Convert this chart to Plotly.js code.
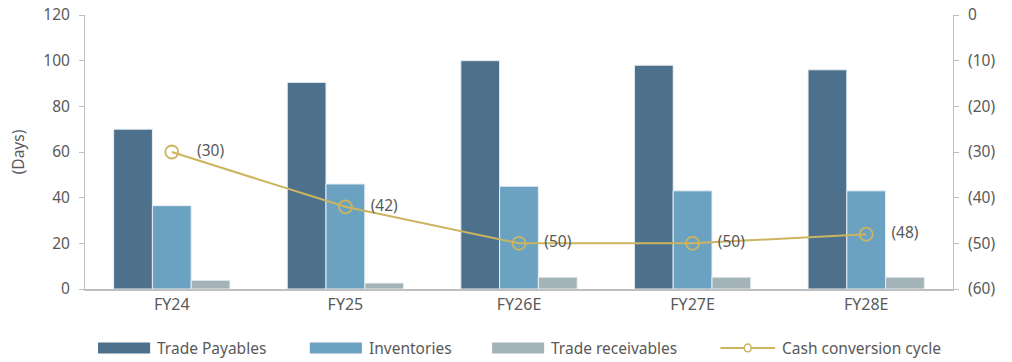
<!DOCTYPE html>
<html>
<head>
<meta charset="utf-8">
<script src="https://cdn.plot.ly/plotly-3.0.1.min.js"></script>
<style>html,body{margin:0;padding:0;background:#fff;}#chart{width:1012px;height:362px;}</style>
</head>
<body>
<div id="chart"></div>
<script>
const categories = ["FY24", "FY25", "FY26E", "FY27E", "FY28E"];
const tradePayables = [70, 90.5, 100, 98, 96];
const inventories = [36.5, 46, 45, 43, 43];
const tradeReceivables = [3.8, 2.6, 5.2, 5.2, 5.2];
const cashConversionCycle = [-30, -42, -50, -50, -48];
const seriesNames = ["Trade Payables", "Inventories", "Trade receivables", "Cash conversion cycle"];
const leftTicks = [0, 20, 40, 60, 80, 100, 120];
const rightTicks = [0, -10, -20, -30, -40, -50, -60];

const colors = ["#4D718D", "#6BA2C2", "#A4B3B8", "#CDB45E"];
const fontFam = "'Noto Sans', 'Open Sans', sans-serif";
const txtColor = "#595959";
const fs = 15.5;

const paren = v => v < 0 ? "(" + Math.abs(v) + ")" : String(v);

const barData = [tradePayables, inventories, tradeReceivables];
const traces = barData.map((vals, i) => ({
  type: "bar",
  x: categories,
  y: vals,
  name: seriesNames[i],
  marker: {color: colors[i], line: {color: "#E8EEF2", width: 1}},
  hoverinfo: "skip",
  showlegend: false
}));
traces.push({
  type: "scatter",
  mode: "lines+markers+text",
  x: categories,
  y: cashConversionCycle,
  yaxis: "y2",
  name: seriesNames[3],
  line: {color: colors[3], width: 2},
  marker: {symbol: "circle-open", size: 13, color: colors[3], line: {width: 1.8, color: colors[3]}},
  text: cashConversionCycle.map(v => "\u00a0\u00a0\u00a0\u00a0" + paren(v)),
  textposition: "middle right",
  textfont: {family: fontFam, size: fs, color: txtColor},
  hoverinfo: "skip",
  showlegend: false
});

// manual legend (wide swatches as in reference)
const legY = -0.215;
const legendX = [0.015, 0.259, 0.469];
const shapes = [];
const annotations = [];
for (let i = 0; i < 3; i++) {
  shapes.push({type: "rect", xref: "paper", yref: "paper",
    x0: legendX[i], x1: legendX[i] + 0.06, y0: legY - 0.02, y1: legY + 0.02,
    fillcolor: colors[i], line: {width: 0}});
  annotations.push({xref: "paper", yref: "paper", x: legendX[i] + 0.066, y: legY,
    xanchor: "left", yanchor: "middle", showarrow: false, text: seriesNames[i],
    font: {family: fontFam, size: fs, color: txtColor}});
}
shapes.push({type: "line", xref: "paper", yref: "paper",
  x0: 0.732, x1: 0.795, y0: legY, y1: legY, line: {color: colors[3], width: 2}});
shapes.push({type: "circle", xref: "paper", yref: "paper",
  x0: 0.7595, x1: 0.7675, y0: legY - 0.014, y1: legY + 0.014,
  fillcolor: "#fff", line: {color: colors[3], width: 1.5}});
annotations.push({xref: "paper", yref: "paper", x: 0.801, y: legY,
  xanchor: "left", yanchor: "middle", showarrow: false, text: seriesNames[3],
  font: {family: fontFam, size: fs, color: txtColor}});

const layout = {
  width: 1012, height: 362,
  margin: {l: 85, r: 59, t: 15, b: 73},
  paper_bgcolor: "#fff", plot_bgcolor: "#fff",
  font: {family: fontFam, size: fs, color: txtColor},
  barmode: "group",
  bargap: 0.33,
  bargroupgap: 0,
  showlegend: false,
  xaxis: {
    type: "category",
    showline: true, linecolor: "#BFBFBF", linewidth: 2,
    ticks: "", showgrid: false, zeroline: false,
    tickfont: {family: fontFam, size: 16, color: txtColor},
    ticklabelstandoff: 0
  },
  yaxis: {
    range: [0, 120],
    tickvals: leftTicks,
    ticktext: leftTicks.map(String),
    showline: true, linecolor: "#BFBFBF", linewidth: 1,
    ticks: "outside", ticklen: 5, tickcolor: "#BFBFBF",
    ticklabelstandoff: 6,
    showgrid: false, zeroline: false,
    title: {text: "(Days)", font: {family: fontFam, size: fs, color: txtColor}, standoff: 14},
    tickfont: {family: fontFam, size: fs, color: txtColor}
  },
  yaxis2: {
    overlaying: "y", side: "right",
    range: [-60, 0],
    tickvals: rightTicks,
    ticktext: rightTicks.map(paren),
    showline: true, linecolor: "#BFBFBF", linewidth: 1,
    ticks: "outside", ticklen: 5, tickcolor: "#BFBFBF",
    ticklabelstandoff: 6,
    showgrid: false, zeroline: false,
    tickfont: {family: fontFam, size: fs, color: txtColor}
  },
  shapes: shapes,
  annotations: annotations
};

Plotly.newPlot("chart", traces, layout, {displayModeBar: false, staticPlot: true});
</script>
</body>
</html>
